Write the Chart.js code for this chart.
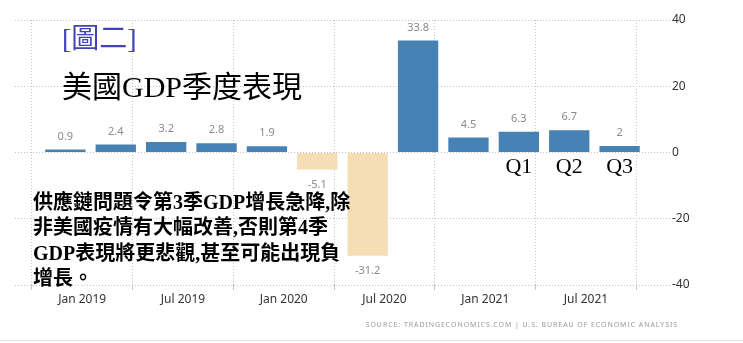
<!DOCTYPE html>
<html>
<head>
<meta charset="utf-8">
<script src="https://cdn.jsdelivr.net/npm/chart.js@4/dist/chart.umd.min.js"></script>
<style>
  html, body { margin: 0; padding: 0; background: #fff; }
  #wrap { position: relative; width: 743px; height: 343px; overflow: hidden; }
  #wrap canvas { position: absolute; left: 0; top: 0; }
  .note { position: absolute; white-space: nowrap; font-family: "Liberation Serif", "Noto Sans CJK TC", serif; }
  #tag { left: 62px; top: 22px; font-size: 28px; line-height: 33px; color: #4343b8; }
  #title { left: 62px; top: 69px; font-size: 30px; line-height: 36px; color: #000; }
  #remark { left: 33px; top: 190px; font-size: 20px; line-height: 25.4px; color: #000; font-weight: bold; }
  #source { right: 65px; top: 320px; font: 7px "Noto Sans", sans-serif; letter-spacing: 0.93px; color: #9a9a9a; }
  #rule { position: absolute; left: 0; right: 0; top: 340px; border-top: 1px solid #e6e6e6; }
</style>
</head>
<body>
<div id="wrap">
  <canvas id="chart" width="743" height="343"></canvas>
  <div class="note" id="tag">[圖二]</div>
  <div class="note" id="title">美國GDP季度表現</div>
  <div class="note" id="remark">供應鏈問題令第3季GDP增長急降,除<br>非美國疫情有大幅改善,否則第4季<br>GDP表現將更悲觀,甚至可能出現負<br>增長。</div>
  <div class="note" id="source">SOURCE: TRADINGECONOMICS.COM | U.S. BUREAU OF ECONOMIC ANALYSIS</div>
  <div id="rule"></div>
</div>
<script>
// quarterly US GDP growth (annualized, %), dated by the last month of each quarter
const quarterEnds = ["2018-12", "2019-03", "2019-06", "2019-09", "2019-12", "2020-03",
                     "2020-06", "2020-09", "2020-12", "2021-03", "2021-06", "2021-09"];
const gdpGrowth = [0.9, 2.4, 3.2, 2.8, 1.9, -5.1, -31.2, 33.8, 4.5, 6.3, 6.7, 2];
const quarterTags = ["", "", "", "", "", "", "", "", "", "Q1", "Q2", "Q3"];

const tickDates = ["2019-01", "2019-07", "2020-01", "2020-07", "2021-01", "2021-07"];
const tickLabels = ["Jan 2019", "Jul 2019", "Jan 2020", "Jul 2020", "Jan 2021", "Jul 2021"];
const yTicks = [-40, -20, 0, 20, 40];

// months counted from Jan 2019
const toMonth = s => {
  const [y, m] = s.split("-").map(Number);
  return (y - 2019) * 12 + (m - 1);
};
const tickMonths = tickDates.map(toMonth);

const UP = "#4682b4";
const DOWN = "#f5deb3";
const GRID = "#c4c4c4";

const barNotes = {
  id: "barNotes",
  afterDatasetsDraw(chart) {
    const ctx = chart.ctx;
    const bars = chart.getDatasetMeta(0).data;
    ctx.save();
    ctx.textAlign = "center";
    ctx.textBaseline = "middle";
    bars.forEach((bar, i) => {
      const v = gdpGrowth[i];
      ctx.fillStyle = "#8a8a8a";
      ctx.font = "11px 'Noto Sans', sans-serif";
      ctx.fillText(String(v), bar.x, v >= 0 ? bar.y - 13 : bar.y + 15);
      if (quarterTags[i]) {
        ctx.fillStyle = "#000";
        ctx.font = "22px 'Liberation Serif', serif";
        ctx.fillText(quarterTags[i], bar.x, chart.scales.y.getPixelForValue(0) + 15);
      }
    });
    ctx.restore();
  }
};

new Chart(document.getElementById("chart"), {
  type: "bar",
  data: {
    datasets: [{
      data: quarterEnds.map((q, i) => ({ x: toMonth(q), y: gdpGrowth[i] })),
      backgroundColor: gdpGrowth.map(v => v >= 0 ? UP : DOWN),
      barPercentage: 0.8,
      categoryPercentage: 1
    }]
  },
  options: {
    responsive: false,
    animation: false,
    layout: { padding: { left: 15, top: 20 } },
    plugins: { legend: { display: false }, tooltip: { enabled: false } },
    scales: {
      x: {
        type: "linear",
        offset: false,
        min: -4,
        max: 35,
        afterBuildTicks: s => { s.ticks = tickMonths.map(v => ({ value: v })); },
        afterFit: s => { s.height = 58; },
        ticks: {
          autoSkip: false,
          maxRotation: 0,
          padding: 2,
          color: "#333",
          font: { family: "Noto Sans", size: 12 },
          callback: v => tickLabels[tickMonths.indexOf(v)]
        },
        grid: { color: GRID, tickLength: 5 },
        border: { display: false, dash: [1, 2] }
      },
      y: {
        position: "right",
        min: -40,
        max: 40,
        afterBuildTicks: s => { s.ticks = yTicks.map(v => ({ value: v })); },
        afterFit: s => { s.width = 73; },
        ticks: {
          padding: 2,
          color: "#333",
          font: { family: "Noto Sans", size: 12 }
        },
        grid: { color: GRID, drawTicks: false },
        border: { display: false, dash: [1, 2] }
      }
    }
  },
  plugins: [barNotes]
});
</script>
</body>
</html>
